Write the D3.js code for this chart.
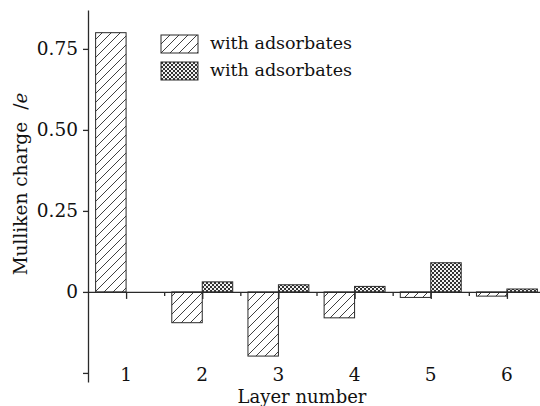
<!DOCTYPE html>
<html>
<head>
<meta charset="utf-8">
<script src="https://cdn.jsdelivr.net/npm/d3@7"></script>
<style>
  body { margin: 0; background: #fff; }
  svg { display: block; font-family: "DejaVu Serif", serif; }
</style>
</head>
<body>
<svg id="chart" width="540" height="406"></svg>
<script>
// values
let layers = [1, 2, 3, 4, 5, 6];
let clean_values = [0.80, -0.095, -0.198, -0.08, -0.017, -0.013];
let adsorbate_values = [0, 0.031, 0.022, 0.017, 0.09, 0.009];
let legend_labels = ["with adsorbates", "with adsorbates"];
let y_ticks = [-0.25, 0, 0.25, 0.5, 0.75];
let y_tick_labels = ["", "0", "0.25", "0.50", "0.75"];

let svg = d3.select("#chart");
let ink = "#2a2a2a";

let defs = svg.append("defs");

let hatch = defs.append("pattern")
  .attr("id", "hatch")
  .attr("patternUnits", "userSpaceOnUse")
  .attr("width", 9)
  .attr("height", 9);
hatch.append("rect")
  .attr("width", 9).attr("height", 9)
  .attr("fill", "#fff");
hatch.append("path")
  .attr("d", "M0,9 L9,0 M-2,2 L2,-2 M7,11 L11,7")
  .attr("stroke", ink)
  .attr("stroke-width", 0.9);

let dots = defs.append("pattern")
  .attr("id", "dots")
  .attr("patternUnits", "userSpaceOnUse")
  .attr("width", 4)
  .attr("height", 4);
dots.append("rect")
  .attr("width", 4).attr("height", 4)
  .attr("fill", "#f2f2f2");
dots.append("path")
  .attr("d", "M0,0 h2 v2 h-2 Z M2,2 h2 v2 h-2 Z")
  .attr("fill", "#333");

let x_scale = d3.scaleLinear()
  .domain([0.5, 6.5])
  .range([88, 545]);

let y_scale = d3.scaleLinear()
  .domain([-0.278, 0.87])
  .range([382, 10]);

let bar_width = x_scale(1) - x_scale(0.6);

let clean_data = layers.map((layer, i) => ({ layer: layer, value: clean_values[i] }));
let adsorbate_data = layers.map((layer, i) => ({ layer: layer, value: adsorbate_values[i] }));

// bars
svg.append("g")
  .selectAll("rect")
  .data(clean_data)
  .join("rect")
  .attr("x", d => x_scale(d.layer) - bar_width)
  .attr("y", d => y_scale(Math.max(0, d.value)))
  .attr("width", bar_width)
  .attr("height", d => Math.abs(y_scale(d.value) - y_scale(0)))
  .attr("fill", "url(#hatch)")
  .attr("stroke", ink)
  .attr("stroke-width", 1);

svg.append("g")
  .selectAll("rect")
  .data(adsorbate_data.filter(d => d.value !== 0))
  .join("rect")
  .attr("x", d => x_scale(d.layer))
  .attr("y", d => y_scale(Math.max(0, d.value)))
  .attr("width", bar_width)
  .attr("height", d => Math.abs(y_scale(d.value) - y_scale(0)))
  .attr("fill", "url(#dots)")
  .attr("stroke", ink)
  .attr("stroke-width", 1);

// x axis along zero, major ticks at layers, minor ticks between
let axis_x = d3.axisBottom(x_scale)
  .tickValues(layers)
  .tickSize(7)
  .tickSizeOuter(0)
  .tickFormat("");

let axis_x_minor = d3.axisBottom(x_scale)
  .tickValues(layers.slice(1).map(l => l - 0.5))
  .tickSize(4)
  .tickSizeOuter(0)
  .tickFormat("");

svg.append("g")
  .attr("transform", "translate(0," + y_scale(0) + ")")
  .call(axis_x);

svg.append("g")
  .attr("transform", "translate(0," + y_scale(0) + ")")
  .call(axis_x_minor)
  .select(".domain").remove();

svg.selectAll(".domain, .tick line")
  .attr("stroke", ink)
  .attr("stroke-width", 1.3);

svg.append("g")
  .selectAll("text")
  .data(layers)
  .join("text")
  .attr("x", d => x_scale(d))
  .attr("y", 381)
  .attr("text-anchor", "middle")
  .attr("font-size", 18.5)
  .attr("fill", "#111")
  .text(d => d);

// y axis
let axis_y = d3.axisLeft(y_scale)
  .tickValues(y_ticks)
  .tickSize(5)
  .tickSizeOuter(0)
  .tickFormat((d, i) => y_tick_labels[i]);

let y_axis_g = svg.append("g")
  .attr("transform", "translate(88,0)")
  .call(axis_y)
  .attr("font-family", "DejaVu Serif, serif");

y_axis_g.select(".domain")
  .attr("stroke", ink)
  .attr("stroke-width", 1.3);
y_axis_g.selectAll(".tick line")
  .attr("stroke", ink)
  .attr("stroke-width", 1.3);
y_axis_g.selectAll(".tick text")
  .attr("x", -10)
  .attr("font-size", 18.5)
  .attr("fill", "#111");

// axis titles
svg.append("text")
  .attr("x", 302)
  .attr("y", 403)
  .attr("text-anchor", "middle")
  .attr("font-size", 18)
  .attr("fill", "#111")
  .text("Layer number");

let y_title = svg.append("text")
  .attr("transform", "translate(27,184) rotate(-90)")
  .attr("text-anchor", "middle")
  .attr("font-size", 18.5)
  .attr("fill", "#111");
y_title.append("tspan").text("Mulliken charge");
y_title.append("tspan").attr("dx", 12).text("/");
y_title.append("tspan").attr("font-style", "italic").text("e");

// legend
let legend_fills = ["url(#hatch)", "url(#dots)"];
let legend = svg.append("g")
  .selectAll("g")
  .data(legend_labels)
  .join("g")
  .attr("transform", (d, i) => "translate(161," + (35 + i * 27) + ")");

legend.append("rect")
  .attr("width", 37)
  .attr("height", 18)
  .attr("fill", (d, i) => legend_fills[i])
  .attr("stroke", ink)
  .attr("stroke-width", 1);

legend.append("text")
  .attr("x", 49)
  .attr("y", 14)
  .attr("font-size", 17.5)
  .attr("fill", "#111")
  .text(d => d);
</script>
</body>
</html>
